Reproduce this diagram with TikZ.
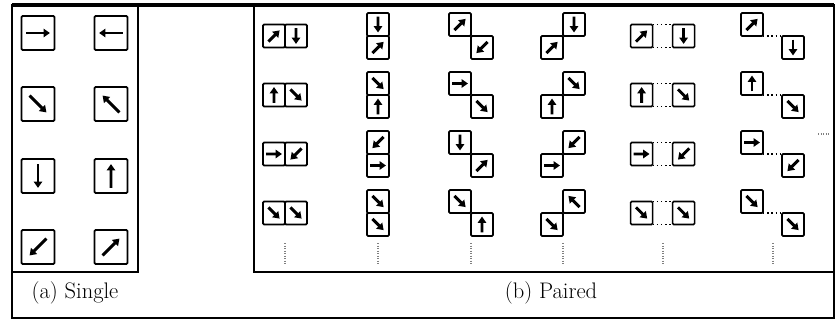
\documentclass[tikz,border=0pt]{standalone}
\usepackage{fontspec}
\usetikzlibrary{positioning,calc,arrows.meta}

\tikzset{
  box/.style={draw, line width=1.2pt, rounded corners=0.8pt, inner sep=0pt, outer sep=0pt,
    minimum width=0.55cm, minimum height=0.575cm},
  bigbox/.style={box, minimum width=0.825cm, minimum height=0.85cm},
  dir/.style={path picture={\draw[line width=2.1pt, -{Triangle[length=4.5pt,width=6pt]}]
    ($(path picture bounding box.center)!-.72!#1:(path picture bounding box.east)$) --
    ($(path picture bounding box.center)!.72!#1:(path picture bounding box.east)$);}},
  link/.style={dotted, line width=1pt},
  more/.style={densely dotted, line width=0.8pt, gray}
}

\begin{document}
\begin{tikzpicture}[font=\fontsize{16}{19}\selectfont]
\useasboundingbox (0,0) rectangle (20.9,-8);
% frames
\draw[line width=0.9pt] (0.3,-0.125) rectangle (20.85,-7.95);
\draw[line width=1.3pt] (0.3,-0.125) rectangle (3.45,-6.8);
\draw[line width=1.3pt] (6.35,-0.125) rectangle (20.85,-6.8);
\draw[line width=2.2pt] (0.3,-0.125) -- (20.85,-0.125);

% (a) single
\node[bigbox, dir=0] (s1) at (0.95,-0.825) {};
\node[bigbox, dir=180] (s2) at (2.775,-0.825) {};
\node[bigbox, dir=-45] (s3) at (0.95,-2.6) {};
\node[bigbox, dir=135] (s4) at (2.775,-2.6) {};
\node[bigbox, dir=-90] (s5) at (0.95,-4.4) {};
\node[bigbox, dir=90] (s6) at (2.775,-4.4) {};
\node[bigbox, dir=225] (s7) at (0.95,-6.175) {};
\node[bigbox, dir=45] (s8) at (2.775,-6.175) {};

% (b) paired, row 1
\node[box, dir=45] (p11a) at (6.85,-0.9) {};
\node[box, dir=-90, right=0pt of p11a] (p11b) {};
\node[box, dir=-90, anchor=south] (p12a) at (9.45,-0.9) {};
\node[box, dir=45, below=0pt of p12a] (p12b) {};
\node[box, dir=45, anchor=south east] (p13a) at (11.775,-0.9) {};
\node[box, dir=225, anchor=north west] (p13b) at (p13a.south east) {};
\node[box, dir=-90, anchor=south west] (p14a) at (14.075,-0.9) {};
\node[box, dir=45, anchor=north east] (p14b) at (p14a.south west) {};
\node[box, dir=45] (p15a) at (16.04,-0.9) {};
\node[box, dir=-90, right=5mm of p15a] (p15b) {};
\node[box, dir=45, anchor=south east] (p16a) at (19.075,-0.9) {};
\node[box, dir=-90, anchor=north west] (p16b) at ([xshift=4.75mm]p16a.south east) {};

% row 2
\node[box, dir=90] (p21a) at (6.85,-2.375) {};
\node[box, dir=-45, right=0pt of p21a] (p21b) {};
\node[box, dir=-45, anchor=south] (p22a) at (9.45,-2.375) {};
\node[box, dir=90, below=0pt of p22a] (p22b) {};
\node[box, dir=0, anchor=south east] (p23a) at (11.775,-2.375) {};
\node[box, dir=-45, anchor=north west] (p23b) at (p23a.south east) {};
\node[box, dir=-45, anchor=south west] (p24a) at (14.075,-2.375) {};
\node[box, dir=90, anchor=north east] (p24b) at (p24a.south west) {};
\node[box, dir=90] (p25a) at (16.04,-2.375) {};
\node[box, dir=-45, right=5mm of p25a] (p25b) {};
\node[box, dir=90, anchor=south east] (p26a) at (19.075,-2.375) {};
\node[box, dir=-45, anchor=north west] (p26b) at ([xshift=4.75mm]p26a.south east) {};

% row 3
\node[box, dir=0] (p31a) at (6.85,-3.85) {};
\node[box, dir=225, right=0pt of p31a] (p31b) {};
\node[box, dir=225, anchor=south] (p32a) at (9.45,-3.85) {};
\node[box, dir=0, below=0pt of p32a] (p32b) {};
\node[box, dir=-90, anchor=south east] (p33a) at (11.775,-3.85) {};
\node[box, dir=45, anchor=north west] (p33b) at (p33a.south east) {};
\node[box, dir=225, anchor=south west] (p34a) at (14.075,-3.85) {};
\node[box, dir=0, anchor=north east] (p34b) at (p34a.south west) {};
\node[box, dir=0] (p35a) at (16.04,-3.85) {};
\node[box, dir=225, right=5mm of p35a] (p35b) {};
\node[box, dir=0, anchor=south east] (p36a) at (19.075,-3.85) {};
\node[box, dir=225, anchor=north west] (p36b) at ([xshift=4.75mm]p36a.south east) {};

% row 4
\node[box, dir=-45] (p41a) at (6.85,-5.325) {};
\node[box, dir=-45, right=0pt of p41a] (p41b) {};
\node[box, dir=-45, anchor=south] (p42a) at (9.45,-5.325) {};
\node[box, dir=-45, below=0pt of p42a] (p42b) {};
\node[box, dir=-45, anchor=south east] (p43a) at (11.775,-5.325) {};
\node[box, dir=90, anchor=north west] (p43b) at (p43a.south east) {};
\node[box, dir=135, anchor=south west] (p44a) at (14.075,-5.325) {};
\node[box, dir=-45, anchor=north east] (p44b) at (p44a.south west) {};
\node[box, dir=-45] (p45a) at (16.04,-5.325) {};
\node[box, dir=-45, right=5mm of p45a] (p45b) {};
\node[box, dir=-45, anchor=south east] (p46a) at (19.075,-5.325) {};
\node[box, dir=-45, anchor=north west] (p46b) at ([xshift=4.75mm]p46a.south east) {};

% dotted links
\draw[link] (p15a.north east) -- (p15b.north west);
\draw[link] (p15a.south east) -- (p15b.south west);
\draw[link] (p16a.south east) -- (p16b.north west);
\draw[link] (p25a.north east) -- (p25b.north west);
\draw[link] (p25a.south east) -- (p25b.south west);
\draw[link] (p26a.south east) -- (p26b.north west);
\draw[link] (p35a.north east) -- (p35b.north west);
\draw[link] (p35a.south east) -- (p35b.south west);
\draw[link] (p36a.south east) -- (p36b.north west);
\draw[link] (p45a.north east) -- (p45b.north west);
\draw[link] (p45a.south east) -- (p45b.south west);
\draw[link] (p46a.south east) -- (p46b.north west);

% and so on
\draw[more] (7.125,-6.075) -- (7.125,-6.625);
\draw[more] (9.45,-6.075) -- (9.45,-6.625);
\draw[more] (11.775,-6.075) -- (11.775,-6.625);
\draw[more] (14.075,-6.075) -- (14.075,-6.625);
\draw[more] (16.575,-6.075) -- (16.575,-6.625);
\draw[more] (19.325,-6.075) -- (19.325,-6.625);
\draw[more] (20.45,-3.35) -- (20.75,-3.35);

% captions
\node (capa) at (1.875,-7.325) {(a) Single};
\node (capb) at (13.775,-7.325) {(b) Paired};
\end{tikzpicture}
\end{document}
